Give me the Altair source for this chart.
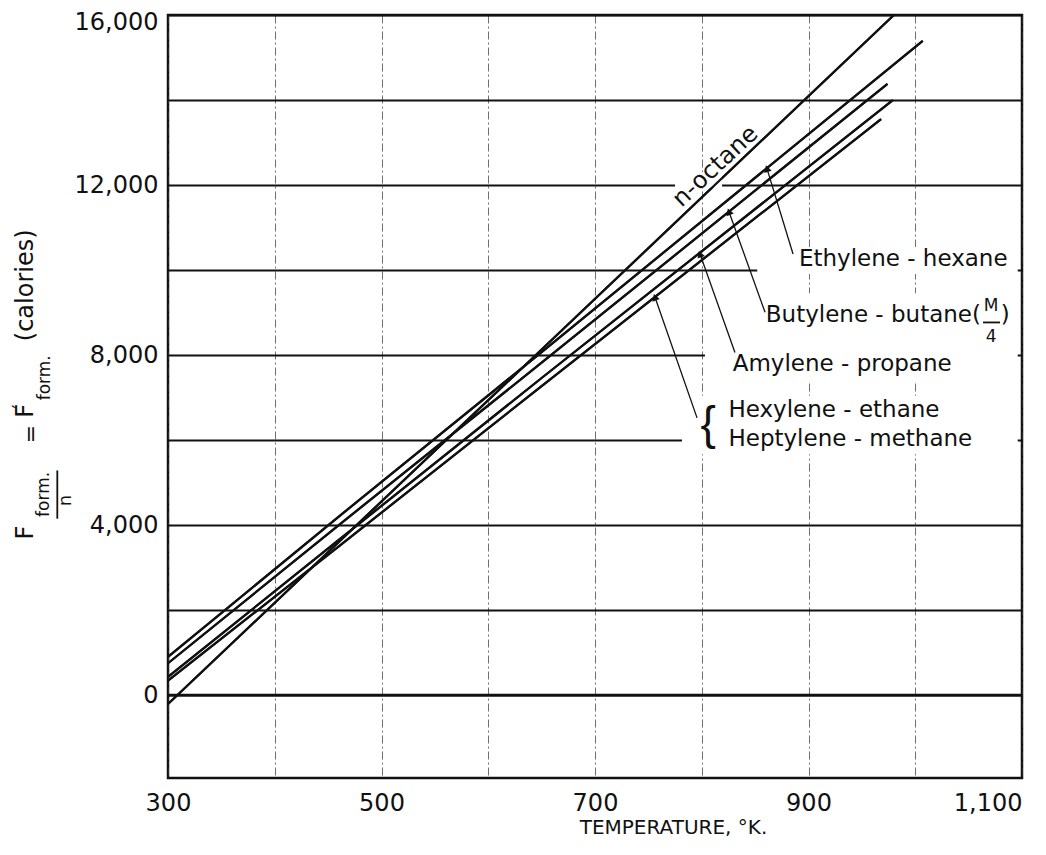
import altair as alt
import pandas as pd

FONT = "DejaVu Sans"
INK = "#111111"

# ---- series data (temperature K, free energy cal) ----
series_names = ["n-octane", "Ethylene-hexane", "Butylene-butane (M/4)",
                "Amylene-propane", "Hexylene-ethane / Heptylene-methane"]
octane_T = [300, 650, 980]
octane_F = [-210, 8130, 16000]
ethylene_T = [300, 460, 650, 1007]
ethylene_F = [900, 4200, 8070, 15390]
butylene_T = [300, 460, 650, 974]
butylene_F = [750, 4000, 7820, 14380]
amylene_T = [300, 460, 650, 979]
amylene_F = [430, 3650, 7460, 14000]
hexylene_T = [300, 460, 650, 968]
hexylene_F = [340, 3500, 7270, 13550]

x_ticks = list(range(300, 1101, 100))
y_ticks = list(range(0, 16001, 2000))

# ---- annotation anchors (data coordinates) ----
label_text = ["Ethylene - hexane", "Butylene - butane(", "Amylene - propane",
              "Hexylene - ethane", "Heptylene - methane"]
label_T = [891, 860, 829, 825, 825]
label_F = [10258, 8933, 7797, 6709, 6023]

octane_label_T = [813]
octane_label_F = [12434]

arrow_tail_T = [885.5, 859.3, 831.1, 795.6]
arrow_tail_F = [10376, 9005, 8060, 6522]
arrow_tip_T = [861.1, 825.5, 798.4, 756.2]
arrow_tip_F = [12387, 11371, 10376, 9361]
arrow_angle = [343, 340, 340, 341]

frac_text = ["M", "4"]
frac_T = [1071, 1071]
frac_F = [9146, 8436]
frac_bar_T = [1063.5]
frac_bar_T2 = [1079.4]
frac_bar_F = [8767]
paren_T = [1080]
paren_F = [8933]

brace_T = [806]
brace_F = [6349]

ytitle_text = ["F", "form.", "n", "=", "F", "\u2032", "form.", "(calories)"]
ytitle_T = [167.0, 184.0, 204.5, 172.0, 167.0, 161.0, 185.0, 167.0]
ytitle_F = [3823, 4722, 4580, 6141, 6685, 6790, 7466, 9640]
ytitle_size = [24, 17, 18, 22, 24, 17, 17, 24]
ybar_T = [196.3]
ybar_F = [4150]
ybar_F2 = [5285]

gap_T = [775, 852, 803, 781.5]
gap_T2 = [819, 1096, 1096, 1096]
gap_F = [11950, 9906, 7348, 5669]
gap_F2 = [12300, 10542, 9453, 7040]

# ---- tables ----
rows = []
for name, ts, fs in zip(series_names,
                        [octane_T, ethylene_T, butylene_T, amylene_T, hexylene_T],
                        [octane_F, ethylene_F, butylene_F, amylene_F, hexylene_F]):
    for i, (t, f) in enumerate(zip(ts, fs)):
        rows.append({"series": name, "i": i, "T": t, "F": f})
lines_df = pd.DataFrame(rows)

xscale = alt.Scale(domain=[300, 1100], nice=False, zero=False)
yscale = alt.Scale(domain=[-1950, 16000], nice=False, zero=False)

xaxis = alt.Axis(
    values=x_ticks,
    labelExpr="datum.value % 200 == 100 ? format(datum.value, ',') : ''",
    labelAlign={"condition": {"test": "datum.value >= 1100", "value": "right"}, "value": "center"},
    labelOverlap=False, labelFont=FONT, labelFontSize=24, labelColor=INK, labelPadding=13,
    ticks=False, domain=False,
    grid=True, gridColor="#333333", gridDash=[8, 3, 2, 3], gridWidth=1, gridOpacity=0.7,
    title="TEMPERATURE, \u00b0K.", titleFont=FONT, titleFontSize=20, titleFontWeight="normal",
    titleColor=INK, titleX=505, titleY=49, titleBaseline="middle", titleAlign="center",
)
yaxis = alt.Axis(
    values=y_ticks,
    labelExpr="datum.value % 4000 == 0 ? format(datum.value, ',') : ''",
    labelOffset={"condition": {"test": "datum.value >= 16000", "value": 7}, "value": 0},
    labelOverlap=False, labelFont=FONT, labelFontSize=24, labelColor=INK, labelPadding=10,
    ticks=False, domain=False,
    grid=True, gridColor="#111111", gridWidth=1.8, gridOpacity=1,
    title=None,
)

X = lambda f="T": alt.X(f"{f}:Q", scale=xscale)
Y = lambda f="F": alt.Y(f"{f}:Q", scale=yscale)

lines = alt.Chart(lines_df).mark_line(color=INK, strokeWidth=2.2).encode(
    x=alt.X("T:Q", scale=xscale, axis=xaxis),
    y=alt.Y("F:Q", scale=yscale, axis=yaxis),
    detail="series:N",
    order="i:Q",
)

gaps = alt.Chart(pd.DataFrame({"T": gap_T, "T2": gap_T2, "F": gap_F, "F2": gap_F2})).mark_rect(
    color="white").encode(x=X(), x2="T2:Q", y=Y(), y2="F2:Q")

zero = alt.Chart(pd.DataFrame({"F": [0]})).mark_rule(color=INK, strokeWidth=2.6).encode(y=Y())

arrows_df = pd.DataFrame({"T": arrow_tail_T, "F": arrow_tail_F,
                          "T2": arrow_tip_T, "F2": arrow_tip_F, "a": arrow_angle})
arrow_lines = alt.Chart(arrows_df).mark_rule(color=INK, strokeWidth=1.3).encode(
    x=X(), y=Y(), x2="T2:Q", y2="F2:Q")
arrow_heads = alt.Chart(arrows_df).mark_point(
    shape="triangle-up", filled=True, color=INK, opacity=1, size=60, strokeWidth=0
).encode(x=alt.X("T2:Q", scale=xscale), y=alt.Y("F2:Q", scale=yscale),
         angle=alt.Angle("a:Q", scale=None))

labels = alt.Chart(pd.DataFrame({"T": label_T, "F": label_F, "text": label_text})).mark_text(
    align="left", baseline="middle", font=FONT, fontSize=23, color=INK
).encode(x=X(), y=Y(), text="text:N")

octane_label = alt.Chart(pd.DataFrame({"T": octane_label_T, "F": octane_label_F, "text": ["n-octane"]})).mark_text(
    align="center", baseline="middle", font=FONT, fontSize=24, color=INK, angle=317
).encode(x=X(), y=Y(), text="text:N")

frac = alt.Chart(pd.DataFrame({"T": frac_T, "F": frac_F, "text": frac_text})).mark_text(
    align="center", baseline="middle", font=FONT, fontSize=17, color=INK
).encode(x=X(), y=Y(), text="text:N")
frac_bar = alt.Chart(pd.DataFrame({"T": frac_bar_T, "T2": frac_bar_T2, "F": frac_bar_F})).mark_rule(
    color=INK, strokeWidth=1.8).encode(x=X(), x2="T2:Q", y=Y())
paren = alt.Chart(pd.DataFrame({"T": paren_T, "F": paren_F, "text": [")"]})).mark_text(
    align="left", baseline="middle", font=FONT, fontSize=23, color=INK
).encode(x=X(), y=Y(), text="text:N")

brace = alt.Chart(pd.DataFrame({"T": brace_T, "F": brace_F, "text": ["{"]})).mark_text(
    align="center", baseline="middle", font="Liberation Sans", fontSize=46, color=INK
).encode(x=X(), y=Y(), text="text:N")

ytitle = alt.Chart(pd.DataFrame({"T": ytitle_T, "F": ytitle_F, "text": ytitle_text,
                                 "s": ytitle_size})).mark_text(
    align="center", baseline="middle", font=FONT, color=INK, angle=270
).encode(x=X(), y=Y(), text="text:N", size=alt.Size("s:Q", scale=None, legend=None))
ybar = alt.Chart(pd.DataFrame({"T": ybar_T, "F": ybar_F, "F2": ybar_F2})).mark_rule(
    color=INK, strokeWidth=1.8).encode(x=X(), y=Y(), y2="F2:Q")

chart = alt.layer(
    lines, gaps, zero, lines, arrow_lines, arrow_heads, labels, octane_label,
    frac, frac_bar, paren, brace, ytitle, ybar,
).properties(
    width=854, height=763,
    autosize=alt.AutoSizeParams(type="none"),
    padding={"left": 160, "top": 7, "right": 10, "bottom": 70},
    background="white",
).configure_view(stroke="#111111", strokeWidth=2.5)

chart.save("out.html", embed_options={"renderer": "svg", "actions": False})
